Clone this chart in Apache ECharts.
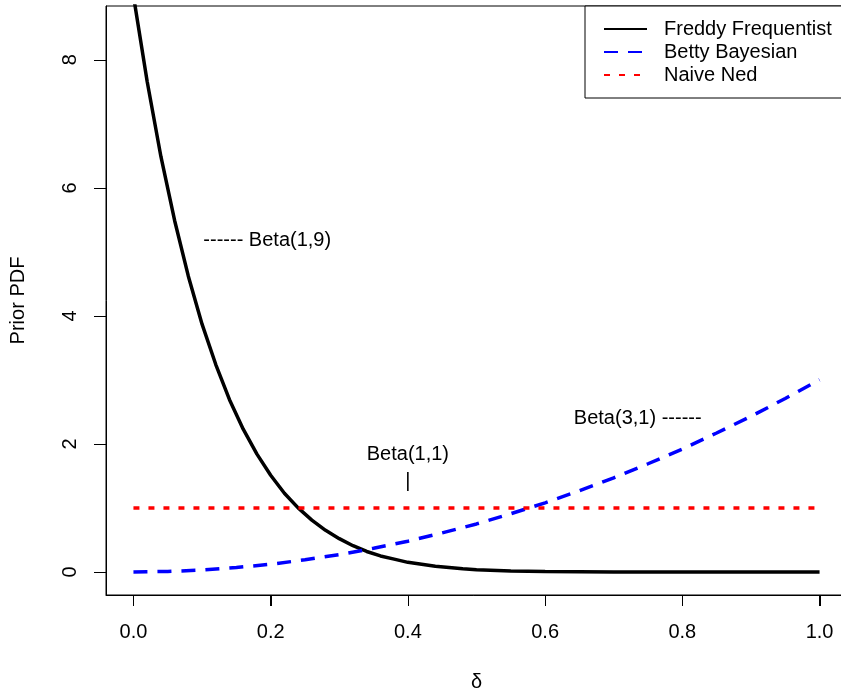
<!DOCTYPE html>
<html>
<head>
<meta charset="utf-8">
<script src="https://cdn.jsdelivr.net/npm/echarts@6/dist/echarts.min.js"></script>
<style>
html,body{margin:0;padding:0;background:#fff;}
#chart{width:841px;height:690px;}
</style>
</head>
<body>
<div id="chart"></div>
<script>
// Data
var freddyX = [0,0.02,0.04,0.06,0.08,0.10,0.12,0.14,0.16,0.18,0.20,0.22,0.24,0.26,0.28,0.30,0.32,0.34,0.36,0.38,0.40,0.42,0.44,0.46,0.48,0.50,0.55,0.60,0.70,0.80,0.90,1.00];
var freddyY = [9.0,7.66,6.49,5.49,4.62,3.87,3.24,2.69,2.23,1.84,1.51,1.23,1.00,0.81,0.65,0.52,0.41,0.32,0.25,0.20,0.15,0.12,0.09,0.07,0.05,0.035,0.015,0.006,0.001,0,0,0];
var bettyX = [0,0.05,0.10,0.15,0.20,0.25,0.30,0.35,0.40,0.45,0.50,0.55,0.60,0.65,0.70,0.75,0.80,0.85,0.90,0.95,1.00];
var bettyY = [0,0.0075,0.03,0.07,0.12,0.19,0.27,0.37,0.48,0.61,0.75,0.91,1.08,1.27,1.47,1.69,1.92,2.17,2.43,2.71,3.0];
var nedX = [0,1];
var nedY = [1,1];
var seriesNames = ['Freddy Frequentist','Betty Bayesian','Naive Ned'];
var xTicks = [0,0.2,0.4,0.6,0.8,1.0];
var yTicks = [0,2,4,6,8];
var annoText = ['------ Beta(1,9)','Beta(1,1)','|','Beta(3,1) ------'];
var annoX = [0.195,0.4,0.4,0.735];
var annoY = [5.17,1.84,1.41,2.39];

function zip(a,b){return a.map(function(v,i){return [v,b[i]];});}

var FONT = "'Liberation Sans', Arial, Helvetica, sans-serif";
var TXT = '#000';
var X_MIN = -0.04, X_MAX = 1.04, Y_MIN = -0.36, Y_MAX = 8.84;

var chart = echarts.init(document.getElementById('chart'), null, {renderer:'canvas'});
var option = {
  animation:false,
  backgroundColor:'#fff',
  grid:{left:106, top:6, right:-6, bottom:95, show:true, borderColor:'#000', borderWidth:1,
    outerBoundsMode:'none'},
  xAxis:{
    type:'value', min:X_MIN, max:X_MAX,
    name:'δ', nameLocation:'middle', nameGap:77,
    nameTextStyle:{fontFamily:FONT, fontSize:20, color:TXT},
    axisLine:{show:true, onZero:false, lineStyle:{color:'#000', width:1}},
    splitLine:{show:false},
    axisTick:{show:true, customValues:xTicks, length:11, lineStyle:{color:'#000', width:1}},
    axisLabel:{show:true, customValues:xTicks, margin:27, fontFamily:FONT, fontSize:20, color:TXT,
      formatter:function(v){return v.toFixed(1);}}
  },
  yAxis:{
    type:'value', min:Y_MIN, max:Y_MAX,
    name:'Prior PDF', nameLocation:'middle', nameGap:78, nameRotate:90,
    nameTextStyle:{fontFamily:FONT, fontSize:20, color:TXT},
    axisLine:{show:true, onZero:false, lineStyle:{color:'#000', width:1}},
    splitLine:{show:false},
    axisTick:{show:true, customValues:yTicks, length:12, lineStyle:{color:'#000', width:1}},
    axisLabel:{show:true, customValues:yTicks, rotate:90, margin:26, fontFamily:FONT, fontSize:20, color:TXT,
      formatter:function(v){return String(v);}}
  },
  legend:{
    orient:'vertical', left:585, top:6,
    padding:[13,16,13,18],
    itemWidth:43, itemHeight:10, itemGap:3,
    borderColor:'#000', borderWidth:1, backgroundColor:'#fff',
    itemStyle:{opacity:0},
    textStyle:{fontFamily:FONT, fontSize:20, color:TXT, lineHeight:20, padding:[0,0,0,12]},
    data:seriesNames,
    selectedMode:false
  },
  series:[
    {name:seriesNames[0], type:'line', data:zip(freddyX,freddyY), symbol:'none', clip:true,
      lineStyle:{color:'#000', width:3.5, type:'solid'}, itemStyle:{color:'#000'}, z:3},
    {name:seriesNames[1], type:'line', data:zip(bettyX,bettyY), symbol:'none', clip:true,
      lineStyle:{color:'#0000ff', width:3.5, type:[14,10], cap:'butt'}, itemStyle:{color:'#0000ff'}, z:3},
    {name:seriesNames[2], type:'line', data:zip(nedX,nedY), symbol:'none', clip:true,
      lineStyle:{color:'#ff0000', width:3.5, type:[6,9], cap:'butt'}, itemStyle:{color:'#ff0000'}, z:3},
    {name:'annotations', type:'scatter', symbolSize:1, silent:true,
      itemStyle:{color:'rgba(0,0,0,0)'},
      data:annoText.map(function(t,i){
        return {value:[annoX[i],annoY[i]], label:{show:true, position:'inside', formatter:t,
          align:'center', verticalAlign:'middle', fontFamily:FONT, fontSize:20, color:TXT,
          opacity:1, textBorderWidth:0}};
      }), z:4}
  ]
};
chart.setOption(option);

// Tick marks placed through the chart's own scales
var tickEls = [];
xTicks.forEach(function(v){
  var p = chart.convertToPixel({gridIndex:0}, [v, Y_MIN]);
  var x = Math.round(p[0]) + 0.5, y = Math.round(p[1]);
  tickEls.push({type:'line', z:100, silent:true, shape:{x1:x, y1:y, x2:x, y2:y+11}, style:{stroke:'#000', lineWidth:1}});
});
yTicks.forEach(function(v){
  var p = chart.convertToPixel({gridIndex:0}, [X_MIN, v]);
  var x = Math.round(p[0]), y = Math.round(p[1]) + 0.5;
  tickEls.push({type:'line', z:100, silent:true, shape:{x1:x-12, y1:y, x2:x, y2:y}, style:{stroke:'#000', lineWidth:1}});
});
chart.setOption({graphic:{elements:tickEls}});
</script>
</body>
</html>
